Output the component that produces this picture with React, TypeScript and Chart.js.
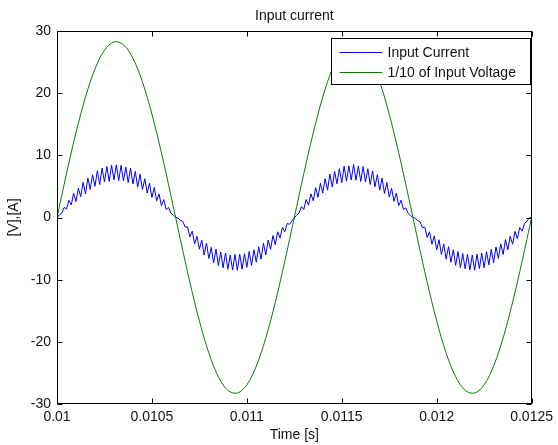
import React, { useEffect, useRef } from 'react';
import { Chart, registerables } from 'chart.js';

Chart.register(...registerables);

// ---- data ----
const X_START = 0.01;
const CURRENT_STEP = 0.0000125; // sample spacing of the current trace [s]
const VOLTAGE_STEP = 0.00005; // sample spacing of the voltage trace [s]

// Input current [A], 201 samples from 0.01 s to 0.0125 s
const currentValues: number[] = [
  0,
  0.42, 0.68, 1.62, 1.38, 2.75, 2.02, 3.92, 2.55, 4.70, 3.34,
  5.65, 3.81, 6.36, 4.52, 6.85, 5.01, 7.52, 5.30, 7.95, 5.72,
  8.22, 5.80, 8.41, 6.05, 8.47, 5.93, 8.38, 5.92, 8.12, 5.60,
  7.94, 5.41, 7.40, 4.88, 6.97, 4.50, 6.24, 3.95, 5.52, 3.22,
  4.83, 2.68, 3.80, 1.90, 2.88, 1.28, 1.62, 0.70, 0.38, 0.05,
  -0.10, -0.45, -0.62, -1.55, -1.48, -3.10, -2.20, -4.25, -3.02, -5.10,
  -3.65, -6.05, -4.12, -6.60, -4.80, -7.30, -5.08, -7.72, -5.55, -8.10,
  -5.70, -8.32, -6.02, -8.45, -5.95, -8.50, -5.90, -8.30, -5.82, -8.02,
  -5.45, -7.70, -5.20, -7.18, -4.70, -6.70, -4.15, -6.02, -3.62, -5.12,
  -2.90, -4.38, -2.30, -3.30, -1.58, -2.30, -0.95, -1.10, -0.55, -0.02,
  0.35, 0.72, 1.75, 1.30, 2.90, 1.98, 3.80, 2.68, 4.82, 3.25,
  5.52, 3.92, 6.25, 4.40, 6.98, 4.90, 7.40, 5.42, 7.85, 5.60,
  8.25, 5.85, 8.30, 6.02, 8.52, 6.00, 8.30, 5.80, 8.20, 5.70,
  7.85, 5.30, 7.50, 4.95, 6.88, 4.40, 6.35, 3.85, 5.62, 3.30,
  4.70, 2.60, 3.92, 1.92, 2.78, 1.30, 1.55, 0.65, 0.30, 0.00,
  -0.12, -0.50, -0.70, -1.62, -1.55, -3.20, -2.30, -4.30, -2.95, -5.22,
  -3.58, -5.95, -4.25, -6.70, -4.68, -7.20, -5.20, -7.70, -5.45, -8.08,
  -5.80, -8.25, -5.92, -8.42, -6.05, -8.48, -5.90, -8.22, -5.75, -8.10,
  -5.50, -7.62, -5.12, -7.25, -4.75, -6.60, -4.22, -5.95, -3.55, -5.20,
  -3.00, -4.30, -2.25, -3.40, -1.60, -2.20, -0.98, -0.60, -0.10, 0.00,
];

// 1/10 of input voltage [V], 51 samples from 0.01 s to 0.0125 s
const voltageValues: number[] = [
  0, 7.04, 13.63, 19.37, 23.89, 26.92, 28.24, 27.80, 25.61, 21.81,
  16.63, 10.42, 3.55, -3.55, -10.42, -16.63, -21.81, -25.61, -27.80, -28.24,
  -26.92, -23.89, -19.37, -13.63, -7.04, 0, 7.04, 13.63, 19.37, 23.89,
  26.92, 28.24, 27.80, 25.61, 21.81, 16.63, 10.42, 3.55, -3.55, -10.42,
  -16.63, -21.81, -25.61, -27.80, -28.24, -26.92, -23.89, -19.37, -13.63, -7.04,
  0,
];

const seriesNames = ['Input Current', '1/10 of Input Voltage'];
const seriesColors = ['#0000ff', '#008000'];

const xTickValues = [0.01, 0.0105, 0.011, 0.0115, 0.012, 0.0125];
const xTickLabels = ['0.01', '0.0105', '0.011', '0.0115', '0.012', '0.0125'];
const yTickValues = [-30, -20, -10, 0, 10, 20, 30];
const yTickLabels = ['-30', '-20', '-10', '0', '10', '20', '30'];

const chartTitle = 'Input current';
const xTitle = 'Time [s]';
const yTitle = '[V],[A]';

const FONT_FAMILY = '"Liberation Sans", Arial, Helvetica, sans-serif';
const FONT_SIZE = 14;
const TEXT_COLOR = '#111111';

const matlabPlugin = {
  id: 'matlabDecor',
  afterDraw(chart: any) {
    const { ctx, chartArea } = chart;
    const { left, right, top, bottom } = chartArea;
    const xs = chart.scales.x;
    const ys = chart.scales.y;
    const L = Math.round(left) + 0.5;
    const R = Math.round(right) - 0.5;
    const T = Math.round(top) + 0.5;
    const B = Math.round(bottom) - 0.5;
    ctx.save();
    ctx.strokeStyle = '#000000';
    ctx.lineWidth = 1;
    // box
    ctx.strokeRect(L, T, R - L, B - T);
    // inward ticks
    const tl = 5;
    ctx.beginPath();
    xTickValues.forEach((v) => {
      const px = Math.round(xs.getPixelForValue(v)) + 0.5;
      ctx.moveTo(px, B);
      ctx.lineTo(px, B - tl);
      ctx.moveTo(px, T);
      ctx.lineTo(px, T + tl);
    });
    yTickValues.forEach((v) => {
      const py = Math.round(ys.getPixelForValue(v)) + 0.5;
      ctx.moveTo(L, py);
      ctx.lineTo(L + tl, py);
      ctx.moveTo(R, py);
      ctx.lineTo(R - tl, py);
    });
    ctx.stroke();

    // title
    ctx.fillStyle = TEXT_COLOR;
    ctx.font = `${FONT_SIZE}px ${FONT_FAMILY}`;
    ctx.textAlign = 'center';
    ctx.textBaseline = 'middle';
    ctx.fillText(chartTitle, (left + right) / 2, 16);

    // legend
    const boxW = 199;
    const boxH = 46;
    const bx = Math.round(right) - 201 + 0.5;
    const by = Math.round(top) + 7 + 0.5;
    ctx.fillStyle = '#ffffff';
    ctx.fillRect(bx, by, boxW, boxH);
    ctx.strokeStyle = '#000000';
    ctx.strokeRect(bx, by, boxW, boxH);
    ctx.textAlign = 'left';
    ctx.textBaseline = 'middle';
    seriesNames.forEach((name, i) => {
      const rowY = by + 14 + i * 20;
      ctx.strokeStyle = seriesColors[i];
      ctx.beginPath();
      ctx.moveTo(bx + 8, rowY);
      ctx.lineTo(bx + 51, rowY);
      ctx.stroke();
      ctx.fillStyle = TEXT_COLOR;
      ctx.fillText(name, bx + 56, rowY + 0.5);
    });
    ctx.restore();
  },
};

export default function App() {
  const canvasRef = useRef<HTMLCanvasElement | null>(null);

  useEffect(() => {
    if (!canvasRef.current) return;
    const currentData = currentValues.map((v, i) => ({ x: X_START + i * CURRENT_STEP, y: v }));
    const voltageData = voltageValues.map((v, i) => ({ x: X_START + i * VOLTAGE_STEP, y: v }));
    const tickFont = { family: FONT_FAMILY, size: FONT_SIZE };

    const chart = new Chart(canvasRef.current, {
      type: 'line',
      data: {
        datasets: [
          {
            label: seriesNames[0],
            data: currentData,
            borderColor: seriesColors[0],
            backgroundColor: seriesColors[0],
            borderWidth: 1,
            pointRadius: 0,
            tension: 0,
            fill: false,
            order: 1,
          },
          {
            label: seriesNames[1],
            data: voltageData,
            borderColor: seriesColors[1],
            backgroundColor: seriesColors[1],
            borderWidth: 1,
            pointRadius: 0,
            tension: 0.35,
            fill: false,
            order: 0,
          },
        ],
      },
      options: {
        animation: false,
        responsive: false,
        maintainAspectRatio: false,
        layout: { padding: { top: 31, right: 25, bottom: 0, left: 0 } },
        plugins: {
          legend: { display: false },
          title: { display: false },
          tooltip: { enabled: false },
        },
        scales: {
          x: {
            type: 'linear',
            min: 0.01,
            max: 0.0125,
            grid: { display: false, drawTicks: false },
            border: { display: false },
            afterBuildTicks: (s: any) => {
              s.ticks = xTickValues.map((v) => ({ value: v }));
            },
            afterFit: (s: any) => {
              s.height = 41;
            },
            ticks: {
              autoSkip: false,
              maxRotation: 0,
              padding: 5,
              color: TEXT_COLOR,
              font: tickFont,
              callback: (_v: any, i: number) => xTickLabels[i],
            },
            title: {
              display: true,
              text: xTitle,
              color: TEXT_COLOR,
              font: tickFont,
              padding: { top: 0, bottom: 1 },
            },
          },
          y: {
            type: 'linear',
            min: -30,
            max: 30,
            grid: { display: false, drawTicks: false },
            border: { display: false },
            afterBuildTicks: (s: any) => {
              s.ticks = yTickValues.map((v) => ({ value: v }));
            },
            afterFit: (s: any) => {
              s.width = 57;
            },
            ticks: {
              autoSkip: false,
              padding: 6,
              color: TEXT_COLOR,
              font: tickFont,
              callback: (_v: any, i: number) => yTickLabels[i],
            },
            title: {
              display: true,
              text: yTitle,
              color: TEXT_COLOR,
              font: tickFont,
              padding: { top: 6, bottom: 0 },
            },
          },
        },
      },
      plugins: [matlabPlugin],
    } as any);

    return () => chart.destroy();
  }, []);

  return (
    <div style={{ position: 'absolute', left: 0, top: 0, width: 558, height: 445, background: '#ffffff' }}>
      <canvas ref={canvasRef} width={558} height={445} style={{ display: 'block' }} />
    </div>
  );
}
